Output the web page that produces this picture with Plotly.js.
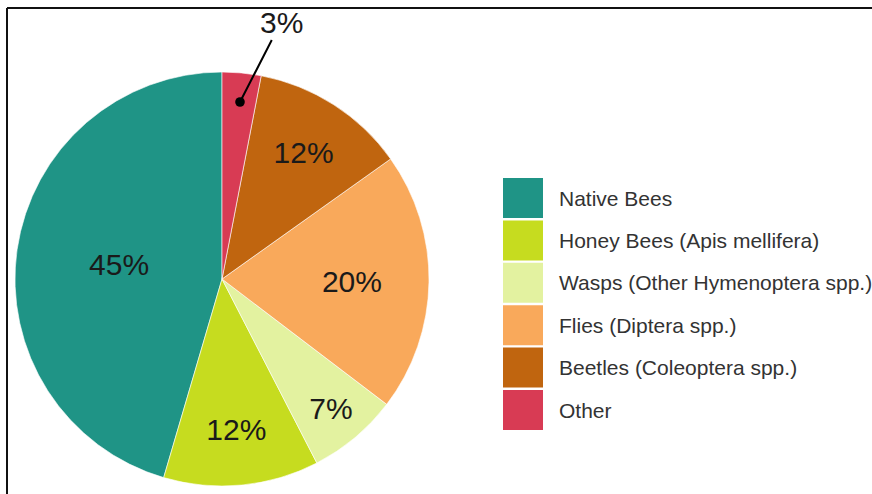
<!DOCTYPE html>
<html>
<head>
<meta charset="utf-8">
<script src="https://cdn.plot.ly/plotly-3.0.1.min.js"></script>
<style>html,body{margin:0;padding:0;background:#fff;}#chart{width:872px;height:494px;}</style>
</head>
<body>
<div id="chart"></div>
<script>
const categories = ["Native Bees", "Honey Bees (Apis mellifera)", "Wasps (Other Hymenoptera spp.)", "Flies (Diptera spp.)", "Beetles (Coleoptera spp.)", "Other"];
const shares = [45, 12, 7, 20, 12, 3];
const colors = ["#1f9486", "#c6dc1f", "#e3f2a0", "#f9a95b", "#c0650f", "#d83b54"];
const outsideLabel = "Other";

const textLabels = shares.map((v, i) => categories[i] === outsideLabel ? "" : v + "%");
const total = shares.reduce((a, b) => a + b, 0);

const W = 872, H = 494;
const px = x => x / W;
const py = y => 1 - y / H;
const FONT = "Liberation Sans, Arial, sans-serif";

const trace = {
  type: "pie",
  labels: categories,
  values: shares,
  text: textLabels,
  textinfo: "text",
  textposition: "inside",
  insidetextorientation: "horizontal",
  sort: false,
  direction: "counterclockwise",
  rotation: -shares[0] / total * 360,
  marker: {colors: colors, line: {color: "rgba(255,255,255,0.6)", width: 1}},
  textfont: {family: FONT, size: 30, color: "#1a1a1a"},
  hoverinfo: "label+percent",
  showlegend: false,
  domain: {x: [px(15), px(429)], y: [py(486), py(72)]}
};

const shapes = [
  {type: "line", xref: "paper", yref: "paper", x0: px(7), x1: 1.01, y0: py(8), y1: py(8), line: {color: "#111", width: 2}},
  {type: "line", xref: "paper", yref: "paper", x0: px(7), x1: px(7), y0: py(8), y1: -0.01, line: {color: "#111", width: 2}}
];
const annotations = [];
categories.forEach((c, i) => {
  const top = 178 + i * 42.4;
  shapes.push({type: "rect", xref: "paper", yref: "paper", x0: px(503), x1: px(543), y0: py(top + 40), y1: py(top), fillcolor: colors[i], line: {width: 0}});
  annotations.push({xref: "paper", yref: "paper", x: px(557), y: py(top + 20), xanchor: "left", yanchor: "middle", text: c, showarrow: false,
    font: {family: FONT, size: 21, color: "#333"}});
});
const oi = categories.indexOf(outsideLabel);
annotations.push({xref: "paper", yref: "paper", x: px(240), y: py(102), text: shares[oi] + "%", showarrow: true,
  arrowhead: 6, arrowsize: 1.2, arrowwidth: 2, arrowcolor: "#000", standoff: 0, ax: 41, ay: -80,
  font: {family: FONT, size: 30, color: "#1a1a1a"}});

const layout = {
  width: W, height: H,
  margin: {l: 0, r: 0, t: 0, b: 0},
  paper_bgcolor: "#fff",
  showlegend: false,
  shapes: shapes,
  annotations: annotations
};
Plotly.newPlot("chart", [trace], layout, {displayModeBar: false, staticPlot: true});
</script>
</body>
</html>
